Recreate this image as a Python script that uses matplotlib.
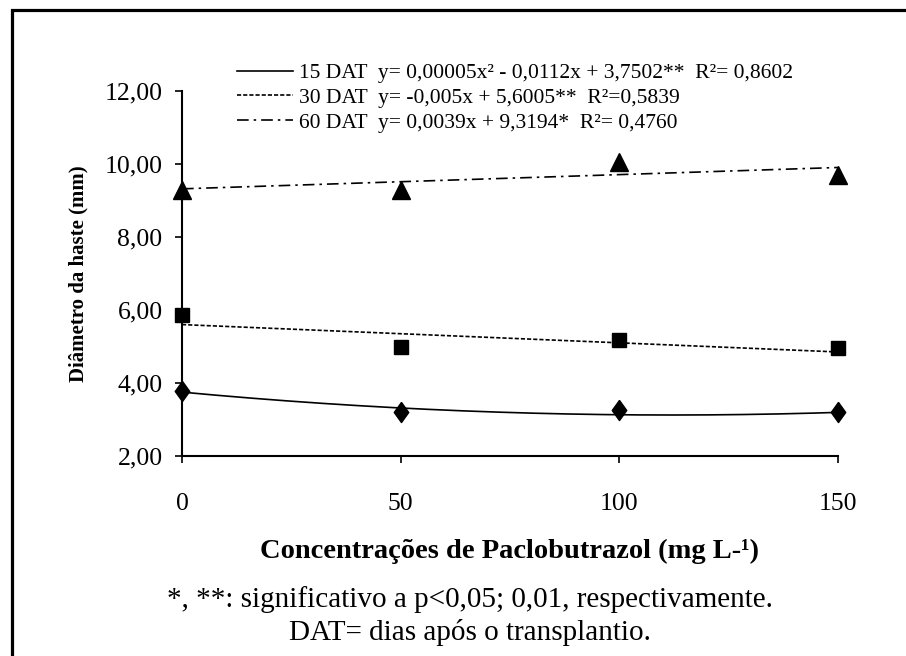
import numpy as np
import matplotlib
matplotlib.use('Agg')
import matplotlib.pyplot as plt
from matplotlib.patches import Rectangle

SERIF = ['Liberation Serif', 'DejaVu Serif']
plt.rcParams['font.family'] = SERIF

# Paclobutrazol concentrations (mg/L)
conc = [0, 50, 100, 150]

# Observed stem diameter (mm) at each evaluation date
diam_15 = [3.79, 3.20, 3.27, 3.21]
diam_30 = [5.86, 4.98, 5.17, 4.95]
diam_60 = [9.30, 9.28, 10.06, 9.71]

# Regression coefficients (highest power first)
coef_15 = [0.00005, -0.0112, 3.7502]
coef_30 = [-0.005, 5.6005]
coef_60 = [0.0039, 9.3194]

labels = [
    '15 DAT  y= 0,00005x² - 0,0112x + 3,7502**  R²= 0,8602',
    '30 DAT  y= -0,005x + 5,6005**  R²=0,5839',
    '60 DAT  y= 0,0039x + 9,3194*  R²= 0,4760',
]

yticks = [2, 4, 6, 8, 10, 12]
xticks = [0, 50, 100, 150]

# slightly tall diamond marker
diamond = [(0, 1), (0.72, 0), (0, -1), (-0.72, 0), (0, 1)]

fig = plt.figure(figsize=(9.06, 6.56), dpi=100)
ax = fig.add_axes([182 / 906, 1 - 456 / 656, 656 / 906, 365 / 656])

xs = np.linspace(0, 150, 300)
l15, = ax.plot(xs, np.polyval(coef_15, xs), color='black', lw=1.2, ls='-')
l30, = ax.plot(xs, np.polyval(coef_30, xs), color='black', lw=1.2, ls=(0, (2.5, 1.2)))
l60, = ax.plot(xs, np.polyval(coef_60, xs), color='black', lw=1.2, ls=(0, (7, 3, 1.5, 3)))

ax.plot(conc, diam_15, ls='none', marker=diamond, ms=14.5, color='black', clip_on=False)
ax.plot(conc, diam_30, ls='none', marker='s', ms=10.5, color='black', clip_on=False)
ax.plot(conc, diam_60, ls='none', marker='^', ms=12.5, color='black', clip_on=False)

ax.set_xlim(0, 150)
ax.set_ylim(2, 12)
ax.set_xticks(xticks)
ax.set_xticklabels([str(v) for v in xticks])
ax.set_yticks(yticks)
ax.set_yticklabels([f'{v:.2f}'.replace('.', ',') for v in yticks])
ax.tick_params(axis='both', labelsize=18.5, direction='out', length=5, width=1.2, color='black')
ax.tick_params(axis='x', pad=22)
ax.tick_params(axis='y', pad=9)

for side in ['top', 'right']:
    ax.spines[side].set_visible(False)
for side in ['left', 'bottom']:
    ax.spines[side].set_linewidth(1.5)

ax.set_xlabel('Concentrações de Paclobutrazol (mg L-¹)', fontsize=20.5, fontweight='bold', va='center')
ax.xaxis.set_label_coords(0.5, -(551 - 456) / 365)
ax.set_ylabel('Diâmetro da haste (mm)', fontsize=15, fontweight='bold', va='center')
ax.yaxis.set_label_coords(-0.1585, 0.5)

ax.legend([l15, l30, l60], labels, loc='upper left',
          bbox_to_anchor=(237 / 906, 1 - 63 / 656), bbox_transform=fig.transFigure,
          frameon=False, prop={'family': SERIF, 'size': 15.5},
          handlelength=2.6, handletextpad=0.3,
          labelspacing=0.22, borderpad=0, borderaxespad=0)

fig.text(470 / 906, 1 - 600 / 656, '*, **: significativo a p<0,05; 0,01, respectivamente.',
         ha='center', va='center', fontsize=21, family=SERIF)
fig.text(470 / 906, 1 - 633 / 656, 'DAT= dias após o transplantio.',
         ha='center', va='center', fontsize=21, family=SERIF)

# outer frame around the whole figure
fig.patches.append(Rectangle((11.5 / 906, -0.2), 1.5, 0.2 + 1 - 10 / 656,
                             transform=fig.transFigure, fill=False,
                             edgecolor='black', lw=2.3))

fig.savefig('out.png', dpi=100)
